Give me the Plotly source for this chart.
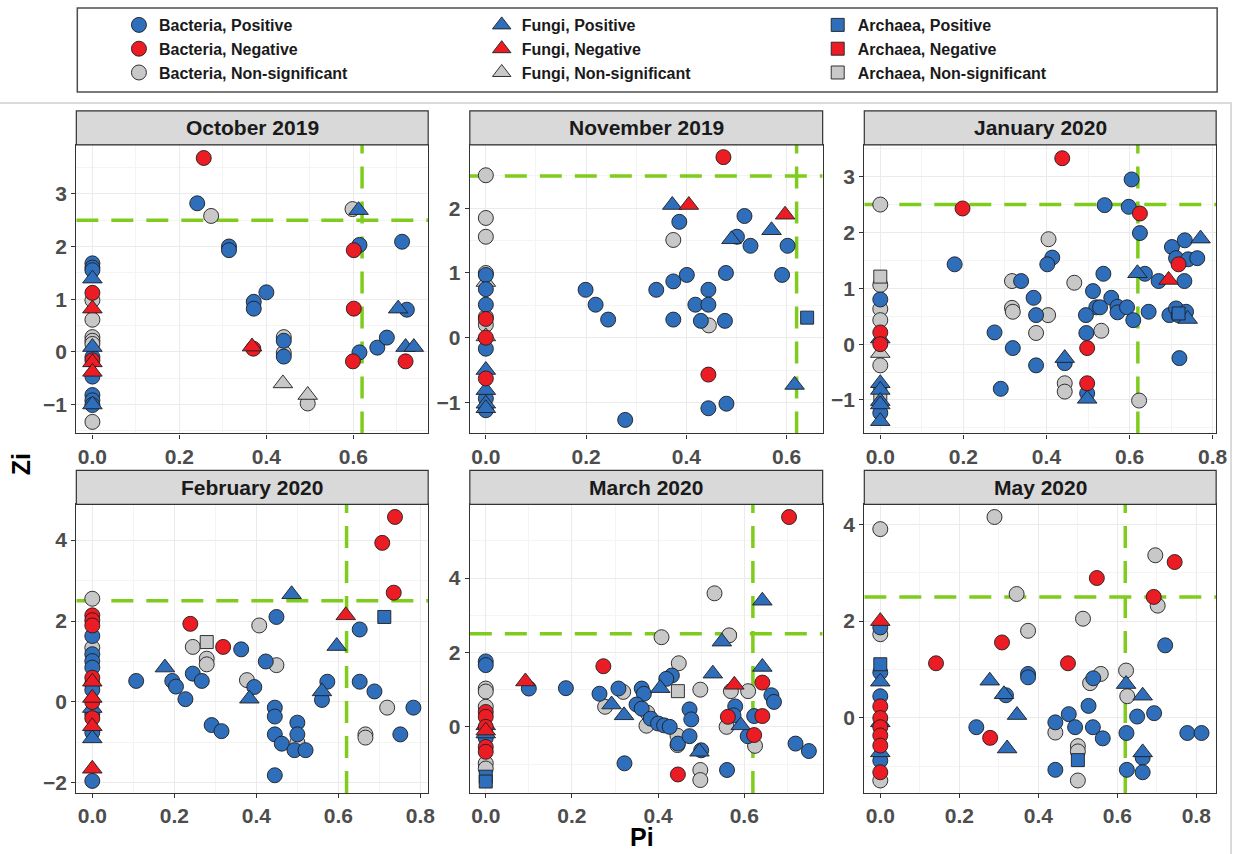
import plotly.graph_objects as go

W, H = 1245, 854

# ---------------- data (Pi, Zi, kingdom, sign) ----------------
# kingdom: B = Bacteria, F = Fungi, A = Archaea ; sign: P = Positive, N = Negative, S = Non-significant
oct_pi = [0.256, 0.241, 0.273, 0.314, 0.314, 0.371, 0.371, 0.40, 0.37, 0.367, 0.44, 0.44, 0.44, 0.44, 0.438, 0.495, 0.495,
          0.598, 0.612, 0.614, 0.601, 0.601, 0.614, 0.599, 0.655, 0.677, 0.712, 0.703, 0.723, 0.72, 0.739, 0.72,
          0, 0, 0, 0, 0, 0, 0, 0, 0, 0, 0, 0, 0, 0, 0, 0, 0, 0, 0, 0, 0, 0]
oct_zi = [3.68, 2.82, 2.58, 2.0, 1.93, 0.95, 0.82, 1.13, 0.06, 0.1, 0.28, 0.21, -0.02, -0.09, -0.6, -0.82, -0.98,
          2.71, 2.69, 2.03, 1.93, 0.82, -0.01, -0.18, 0.08, 0.27, 2.09, 0.82, 0.80, 0.09, 0.09, -0.18,
          1.68, 1.60, 1.55, 1.39, 1.12, 0.98, 0.82, 0.61, 0.28, 0.21, 0.15, 0.09, -0.1, -0.16, -0.2, -0.38, -0.47, -0.82, -0.92, -1.01, -1.0, -1.33]
oct_kind = ["B", "B", "B", "B", "B", "B", "B", "B", "B", "F", "B", "B", "B", "B", "F", "F", "B",
            "B", "F", "B", "B", "B", "B", "B", "B", "B", "B", "F", "B", "F", "F", "B",
            "B", "B", "B", "F", "B", "B", "F", "B", "B", "B", "B", "F", "B", "B", "F", "F", "B", "B", "B", "B", "F", "B"]
oct_sign = ["N", "P", "S", "P", "P", "P", "P", "P", "N", "N", "S", "P", "S", "P", "S", "S", "S",
            "S", "P", "P", "N", "N", "P", "N", "P", "P", "P", "P", "P", "P", "P", "N",
            "P", "P", "P", "P", "N", "S", "N", "S", "S", "S", "S", "P", "P", "N", "N", "N", "P", "P", "P", "P", "P", "S"]

nov_pi = [0.474, 0.372, 0.405, 0.386, 0.374, 0.516, 0.49, 0.501, 0.528, 0.57, 0.597, 0.602, 0.591, 0.479, 0.401, 0.374,
          0.34, 0.444, 0.418, 0.444, 0.374, 0.429, 0.445, 0.477, 0.199, 0.219, 0.244, 0.278, 0.444, 0.444, 0.48, 0.641, 0.616,
          0, 0, 0, 0, 0, 0, 0, 0, 0, 0, 0, 0, 0, 0, 0, 0, 0, 0, 0, 0, 0]
nov_zi = [2.79, 2.05, 2.05, 1.79, 1.51, 1.88, 1.52, 1.56, 1.42, 1.66, 1.90, 1.42, 0.97, 1.0, 0.97, 0.87,
          0.74, 0.74, 0.51, 0.51, 0.28, 0.26, 0.19, 0.26, 0.74, 0.51, 0.28, -1.27, -0.57, -1.09, -1.02, 0.31, -0.73,
          2.51, 1.85, 1.56, 1.0, 0.97, 0.86, 0.75, 0.51, 0.32, 0.29, 0.2, 0.02, 0.0, -0.17, -0.5, -0.63, -0.81, -0.94, -1.02, -1.09, -1.12]
nov_kind = ["B", "F", "F", "B", "B", "B", "F", "B", "B", "F", "F", "B", "B", "B", "B", "B",
            "B", "B", "B", "B", "B", "B", "B", "B", "B", "B", "B", "B", "B", "B", "B", "A", "F",
            "B", "B", "B", "B", "B", "F", "B", "B", "B", "B", "B", "F", "B", "B", "F", "B", "F", "B", "F", "F", "B"]
nov_sign = ["N", "P", "N", "P", "S", "P", "P", "P", "P", "P", "N", "P", "P", "P", "P", "P",
            "P", "P", "P", "P", "P", "P", "S", "P", "P", "P", "P", "P", "N", "P", "P", "P", "P",
            "S", "S", "S", "S", "P", "S", "P", "P", "S", "N", "S", "S", "N", "P", "P", "N", "P", "P", "P", "P", "P"]

jan_pi = [0.438, 0.198, 0.605, 0.54, 0.598, 0.625, 0.625, 0.179, 0.405, 0.414, 0.402, 0.702, 0.733, 0.771, 0.712, 0.741,
          0.763, 0.718, 0.732, 0.694, 0.67, 0.619, 0.637, 0.537, 0.467, 0.317, 0.339, 0.512, 0.556, 0.369, 0.317, 0.319,
          0.375, 0.404, 0.52, 0.529, 0.571, 0.571, 0.594, 0.609, 0.646, 0.495, 0.696, 0.712, 0.718, 0.736, 0.718, 0.74,
          0.275, 0.375, 0.496, 0.532, 0.319, 0.498, 0.444, 0.444, 0.375, 0.72, 0.444, 0.444, 0.29, 0.498, 0.498, 0.498, 0.623,
          0, 0, 0, 0, 0, 0, 0, 0, 0, 0, 0, 0, 0, 0, 0, 0, 0, 0]
jan_zi = [3.33, 2.43, 2.95, 2.49, 2.46, 2.34, 1.99, 1.43, 1.88, 1.55, 1.43, 1.74, 1.86, 1.89, 1.54, 1.52,
          1.54, 1.43, 1.13, 1.15, 1.13, 1.27, 1.26, 1.26, 1.10, 1.13, 1.13, 0.95, 0.83, 0.83, 0.65, 0.58,
          0.52, 0.52, 0.66, 0.66, 0.67, 0.57, 0.66, 0.43, 0.58, 0.52, 0.52, 0.64, 0.52, 0.58, 0.55, 0.45,
          0.21, 0.20, 0.20, 0.24, -0.07, -0.07, -0.25, -0.34, -0.38, -0.25, -0.70, -0.85, -0.80, -0.88, -0.98, -0.70, -1.01,
          2.5, 1.21, 1.06, 0.8, 0.63, 0.43, 0.1, 0.21, 0.0, -0.16, -0.38, -0.7, -0.82, -0.9, -1.02, -1.08, -1.23, -1.38]
jan_kind = ["B", "B", "B", "B", "B", "B", "B", "B", "B", "B", "B", "B", "B", "F", "B", "B",
            "B", "B", "B", "F", "B", "F", "B", "B", "B", "B", "B", "B", "B", "B", "B", "B",
            "B", "B", "B", "B", "B", "B", "B", "B", "B", "B", "B", "B", "B", "B", "A", "F",
            "B", "B", "B", "B", "B", "B", "F", "B", "B", "B", "B", "B", "B", "B", "F", "B", "B",
            "B", "A", "B", "B", "B", "B", "F", "B", "B", "F", "B", "F", "F", "A", "F", "F", "B", "F"]
jan_sign = ["N", "N", "P", "P", "P", "N", "P", "P", "S", "P", "P", "P", "P", "P", "P", "P",
            "P", "N", "P", "N", "P", "P", "P", "P", "S", "S", "P", "P", "P", "P", "S", "S",
            "P", "S", "P", "P", "P", "P", "P", "P", "P", "P", "P", "P", "P", "P", "P", "P",
            "P", "S", "P", "S", "P", "N", "P", "P", "P", "P", "S", "S", "P", "P", "P", "N", "S",
            "S", "S", "S", "P", "S", "S", "P", "N", "N", "S", "S", "P", "P", "S", "P", "P", "P", "P"]

feb_pi = [0.738, 0.707, 0.735, 0.486, 0.618, 0.712, 0.449, 0.239, 0.407, 0.652, 0.279, 0.245, 0.319, 0.596, 0.363, 0.279,
          0.279, 0.423, 0.449, 0.177, 0.107, 0.195, 0.204, 0.245, 0.267, 0.227, 0.377, 0.395, 0.383, 0.573, 0.56, 0.56,
          0.652, 0.688, 0.719, 0.783, 0.445, 0.445, 0.291, 0.315, 0.445, 0.462, 0.50, 0.50, 0.50, 0.493, 0.52, 0.666,
          0.666, 0.751, 0.445,
          0, 0, 0, 0, 0, 0, 0, 0, 0, 0, 0, 0, 0, 0, 0, 0, 0, 0, 0, 0, 0, 0, 0]
feb_zi = [4.57, 3.93, 2.70, 2.66, 2.14, 2.10, 2.10, 1.93, 1.89, 1.79, 1.48, 1.36, 1.36, 1.38, 1.30, 1.07,
          0.93, 1.00, 0.91, 0.85, 0.52, 0.52, 0.38, 0.70, 0.52, 0.07, 0.54, 0.37, 0.08, 0.50, 0.26, 0.05,
          0.50, 0.26, -0.14, -0.14, -0.14, -0.36, -0.57, -0.72, -0.80, -1.03, -0.51, -1.00, -0.80, -1.19, -1.19, -0.80,
          -0.88, -0.80, -1.81,
          2.55, 2.14, 2.02, 1.89, 1.63, 1.34, 1.18, 1.01, 0.85, 0.6, 0.5, 0.45, 0.3, 0.1, 0.0, -0.15, -0.3, -0.4, -0.6, -0.75, -0.9, -1.65, -1.95]
feb_kind = ["B", "B", "B", "F", "F", "A", "B", "B", "B", "B", "A", "B", "B", "F", "B", "B",
            "B", "B", "B", "F", "B", "B", "B", "B", "B", "B", "B", "B", "F", "B", "F", "B",
            "B", "B", "B", "B", "B", "B", "B", "B", "B", "B", "B", "B", "B", "B", "B", "B",
            "B", "B", "B",
            "B", "B", "B", "B", "B", "B", "B", "B", "B", "B", "F", "B", "B", "F", "B", "F", "B", "B", "F", "B", "F", "F", "B"]
feb_sign = ["N", "N", "N", "P", "N", "P", "P", "N", "S", "P", "S", "S", "N", "P", "P", "S",
            "S", "P", "S", "P", "P", "P", "P", "P", "P", "P", "S", "P", "P", "P", "P", "P",
            "P", "P", "S", "P", "P", "P", "P", "P", "P", "P", "P", "S", "P", "P", "P", "S",
            "S", "P", "P",
            "S", "N", "N", "N", "P", "S", "P", "P", "P", "N", "N", "P", "P", "N", "N", "P", "P", "N", "N", "P", "P", "N", "P"]

mar_pi = [0.704, 0.531, 0.642, 0.565, 0.548, 0.408, 0.642, 0.273, 0.448, 0.432, 0.419, 0.527, 0.10, 0.092, 0.186, 0.642,
          0.569, 0.577, 0.609, 0.308, 0.319, 0.362, 0.367, 0.405, 0.446, 0.498, 0.663, 0.669, 0.264, 0.277, 0.292, 0.35,
          0.362, 0.579, 0.473, 0.477, 0.375, 0.321, 0.559, 0.562, 0.575, 0.642, 0.623, 0.383, 0.40, 0.414, 0.427, 0.373,
          0.592, 0.608, 0.625, 0.623, 0.445, 0.445, 0.446, 0.473, 0.50, 0.496, 0.719, 0.75, 0.322, 0.56, 0.446, 0.498, 0.498,
          0, 0, 0, 0, 0, 0, 0, 0, 0, 0, 0, 0, 0, 0, 0, 0, 0, 0]
mar_zi = [5.64, 3.59, 3.39, 2.46, 2.29, 2.41, 1.61, 1.63, 1.71, 1.38, 1.29, 1.43, 1.03, 1.22, 1.04, 1.19,
          0.96, 1.13, 0.96, 1.03, 0.94, 1.03, 0.89, 1.04, 0.96, 1.00, 0.85, 0.67, 0.89, 0.54, 0.60, 0.60,
          0.49, 0.55, 0.47, 0.20, 0.38, 0.31, 0.00, 0.27, 0.31, 0.29, 0.29, 0.22, 0.09, 0.04, 0.00, 0.03,
          0.04, -0.25, -0.51, -0.22, -0.24, -0.49, -0.45, -0.25, -0.63, -0.67, -0.45, -0.65, -0.98, -1.16, -1.28, -1.16, -1.43,
          1.76, 1.66, 1.03, 0.95, 0.54, 0.4, 0.27, 0.04, 0.0, -0.1, -0.18, -0.3, -0.54, -0.67, -0.98, -1.12, -1.34, -1.47]
mar_kind = ["B", "B", "F", "B", "F", "B", "F", "B", "B", "B", "B", "F", "B", "F", "B", "B",
            "B", "F", "B", "B", "B", "B", "B", "F", "A", "B", "B", "B", "B", "B", "F", "B",
            "B", "B", "B", "B", "B", "F", "B", "B", "B", "B", "B", "B", "B", "B", "B", "B",
            "F", "B", "B", "B", "B", "B", "B", "B", "B", "F", "B", "B", "B", "B", "B", "B", "B",
            "B", "B", "B", "B", "B", "B", "B", "F", "B", "F", "F", "B", "B", "B", "B", "B", "A", "A"]
mar_sign = ["N", "S", "P", "S", "P", "S", "P", "N", "S", "P", "P", "P", "P", "N", "P", "N",
            "S", "N", "S", "P", "S", "P", "P", "P", "S", "S", "P", "P", "P", "S", "P", "P",
            "P", "P", "P", "P", "S", "P", "S", "N", "P", "N", "P", "P", "P", "P", "P", "S",
            "P", "P", "S", "N", "S", "S", "P", "P", "P", "P", "P", "P", "P", "P", "N", "S", "S",
            "P", "P", "S", "S", "S", "N", "N", "P", "N", "N", "P", "P", "N", "N", "S", "S", "P", "P"]

may_pi = [0.289, 0.696, 0.745, 0.548, 0.345, 0.702, 0.692, 0.513, 0.374, 0.308, 0.721, 0.141, 0.475, 0.374, 0.374, 0.558,
          0.531, 0.539, 0.622, 0.625, 0.622, 0.277, 0.318, 0.313, 0.664, 0.527, 0.346, 0.477, 0.65, 0.693, 0.243, 0.443,
          0.443, 0.493, 0.538, 0.563, 0.278, 0.321, 0.623, 0.777, 0.813, 0.50, 0.50, 0.50, 0.664, 0.664, 0.443, 0.624,
          0.664, 0.50,
          0, 0, 0, 0, 0, 0, 0, 0, 0, 0, 0, 0, 0, 0, 0, 0, 0, 0]
may_zi = [4.15, 3.36, 3.22, 2.89, 2.56, 2.32, 2.50, 2.05, 1.80, 1.56, 1.50, 1.13, 1.13, 0.91, 0.84, 0.91,
          0.72, 0.82, 0.98, 0.45, 0.70, 0.77, 0.47, 0.49, 0.46, 0.25, 0.06, 0.08, 0.03, 0.10, -0.19, -0.30,
          -0.09, -0.19, -0.19, -0.42, -0.41, -0.63, -0.31, -0.31, -0.31, -0.58, -0.69, -0.87, -0.82, -0.71, -1.07, -1.07,
          -1.12, -1.29,
          3.9, 2.0, 1.87, 1.73, 1.11, 0.94, 0.75, 0.45, 0.24, 0.0, -0.09, -0.19, -0.36, -0.57, -0.71, -0.88, -1.12, -1.29]
may_kind = ["B", "B", "B", "B", "B", "B", "B", "B", "B", "B", "B", "B", "B", "B", "B", "B",
            "B", "B", "B", "B", "F", "F", "B", "F", "F", "B", "F", "B", "B", "B", "B", "B",
            "B", "B", "B", "B", "B", "F", "B", "B", "B", "B", "B", "A", "B", "F", "B", "B",
            "B", "B",
            "B", "F", "B", "B", "A", "B", "F", "B", "B", "B", "F", "B", "B", "B", "F", "B", "B", "B"]
may_sign = ["S", "S", "N", "N", "S", "S", "N", "S", "S", "N", "P", "N", "N", "P", "P", "S",
            "S", "P", "S", "S", "P", "P", "P", "P", "P", "P", "P", "P", "P", "P", "P", "S",
            "P", "P", "P", "P", "N", "P", "P", "P", "P", "S", "S", "P", "P", "P", "P", "P",
            "P", "S",
            "S", "N", "P", "S", "P", "P", "P", "P", "N", "N", "P", "N", "N", "N", "P", "P", "N", "S"]

panel_titles = ["October 2019", "November 2019", "January 2020", "February 2020", "March 2020", "May 2020"]
panel_data = [(oct_pi, oct_zi, oct_kind, oct_sign), (nov_pi, nov_zi, nov_kind, nov_sign),
              (jan_pi, jan_zi, jan_kind, jan_sign), (feb_pi, feb_zi, feb_kind, feb_sign),
              (mar_pi, mar_zi, mar_kind, mar_sign), (may_pi, may_zi, may_kind, may_sign)]

kind_names = {"B": "Bacteria", "F": "Fungi", "A": "Archaea"}
sign_names = {"P": "Positive", "N": "Negative", "S": "Non-significant"}
pi_threshold = 0.62
zi_threshold = 2.5

# ---------------- styling ----------------
colors = {"P": "#2F6EBB", "N": "#EC1C24", "S": "#C8C8C8"}
symbols = {"B": "circle", "F": "triangle-up", "A": "square"}
sizes = {"B": 15, "F": 17, "A": 13}
legend_of_kind = {"B": "legend", "F": "legend2", "A": "legend3"}
sign_rank = {"P": 1, "N": 2, "S": 3}
THRESH_LINE = dict(color="#7FCC1C", width=3.5, dash="22px,13px")

FONT = "Liberation Sans, Arial, Helvetica, sans-serif"

col_px = [(77, 432), (474, 830), (872, 1227)]
row_px = [(145, 434), (505, 794)]
strip_h = 34
xranges = [[-0.037, 0.772], [-0.032, 0.672], [-0.0385, 0.8085], [-0.039, 0.819], [-0.037, 0.782], [-0.0405, 0.85]]
yranges = [[-1.55, 3.93], [-1.48, 2.98], [-1.60, 3.57], [-2.25, 4.88], [-1.78, 5.98], [-1.55, 4.41]]
ydticks = [1, 1, 1, 2, 2, 2]

fig = go.Figure()
layout = dict(width=W, height=H, margin=dict(l=0, r=0, t=0, b=0),
              paper_bgcolor="white", plot_bgcolor="white", showlegend=True)
shapes = []
annotations = []

for i, (title, (pis, zis, kinds, signs)) in enumerate(zip(panel_titles, panel_data)):
    r, c = divmod(i, 3)
    x0, x1 = col_px[c]
    y0, y1 = row_px[r]
    xa = "xaxis" if i == 0 else f"xaxis{i+1}"
    ya = "yaxis" if i == 0 else f"yaxis{i+1}"
    xr = "x" if i == 0 else f"x{i+1}"
    yr = "y" if i == 0 else f"y{i+1}"
    axis_common = dict(showline=True, mirror=True, linecolor="#333333", linewidth=1.2,
                       ticks="outside", ticklen=4, tickcolor="#333333", tickwidth=1,
                       tickfont=dict(family=FONT, size=21, color="#4D4D4D", weight="bold"),
                       showgrid=True, gridcolor="#EBEBEB", gridwidth=1, zeroline=False)
    layout[xa] = dict(axis_common, domain=[x0 / W, x1 / W], anchor=yr, range=xranges[i],
                      dtick=0.2, tick0=0, tickformat=".1f",
                      minor=dict(showgrid=True, gridcolor="#F4F4F4", dtick=0.1, tick0=0))
    layout[ya] = dict(axis_common, domain=[1 - y1 / H, 1 - y0 / H], anchor=xr, range=yranges[i],
                      dtick=ydticks[i], tick0=0,
                      minor=dict(showgrid=True, gridcolor="#F4F4F4", dtick=ydticks[i] / 2, tick0=0))
    # strip
    shapes.append(dict(type="rect", xref="paper", yref="paper", x0=x0 / W, x1=x1 / W,
                       y0=1 - y0 / H, y1=1 - (y0 - strip_h) / H,
                       fillcolor="#D9D9D9", line=dict(color="#333333", width=1.2), layer="above"))
    annotations.append(dict(text=title, xref="paper", yref="paper", x=(x0 + x1) / 2 / W,
                            y=1 - (y0 - strip_h / 2) / H, showarrow=False, xanchor="center", yanchor="middle",
                            font=dict(family=FONT, size=21, color="#1A1A1A", weight="bold")))
    # threshold reference lines (drawn as traces: above the grid, below the points)
    fig.add_trace(go.Scatter(x=xranges[i], y=[zi_threshold, zi_threshold], xaxis=xr, yaxis=yr,
                             mode="lines", line=THRESH_LINE, showlegend=False, hoverinfo="skip"))
    fig.add_trace(go.Scatter(x=[pi_threshold, pi_threshold], y=yranges[i], xaxis=xr, yaxis=yr,
                             mode="lines", line=THRESH_LINE, showlegend=False, hoverinfo="skip"))
    # points
    for s in ["S", "P", "N"]:
        for k in ["B", "F", "A"]:
            px = [p for p, kk, ss in zip(pis, kinds, signs) if kk == k and ss == s]
            pz = [z for z, kk, ss in zip(zis, kinds, signs) if kk == k and ss == s]
            if not px:
                if i != 0:
                    continue
                px, pz = [None], [None]   # legend-only entry
            fig.add_trace(go.Scatter(
                x=px, y=pz, xaxis=xr, yaxis=yr, mode="markers",
                name=f"{kind_names[k]}, {sign_names[s]}", legendgroup=f"{k}{s}",
                legend=legend_of_kind[k], legendrank=sign_rank[s], showlegend=(i == 0),
                marker=dict(symbol=symbols[k], size=sizes[k], color=colors[s],
                            line=dict(color="#1E1E1E", width=0.9)),
                hovertemplate="Pi=%{x}<br>Zi=%{y}<extra></extra>"))

# legend frame and outer frame
shapes.append(dict(type="rect", xref="paper", yref="paper", x0=78 / W, x1=1228 / W, y0=1 - 92 / H, y1=1 - 8 / H,
                   line=dict(color="#4D4D4D", width=1.5), fillcolor="rgba(0,0,0,0)"))
shapes.append(dict(type="rect", xref="paper", yref="paper", x0=-2 / W, x1=1242 / W, y0=-0.01, y1=1 - 103 / H,
                   line=dict(color="#DADADA", width=2), fillcolor="rgba(0,0,0,0)", layer="below"))

annotations.append(dict(text="Pi", xref="paper", yref="paper", x=648 / W, y=1 - 838 / H, showarrow=False,
                        xanchor="center", yanchor="middle",
                        font=dict(family=FONT, size=25, color="#000000", weight="bold")))
annotations.append(dict(text="Zi", xref="paper", yref="paper", x=22 / W, y=1 - 465 / H, showarrow=False,
                        textangle=-90, xanchor="center", yanchor="middle",
                        font=dict(family=FONT, size=25, color="#000000", weight="bold")))

layout["shapes"] = shapes
layout["annotations"] = annotations
legend_common = dict(orientation="v", y=1 - 8 / H, xanchor="left", yanchor="top", traceorder="normal",
                     tracegroupgap=0, font=dict(family=FONT, size=16, color="#1A1A1A", weight="bold"),
                     bgcolor="rgba(0,0,0,0)", borderwidth=0, itemclick=False, itemdoubleclick=False)
layout["legend"] = dict(legend_common, x=120 / W)
layout["legend2"] = dict(legend_common, x=486 / W)
layout["legend3"] = dict(legend_common, x=825 / W)
fig.update_layout(**layout)

fig.write_html("out.html")
